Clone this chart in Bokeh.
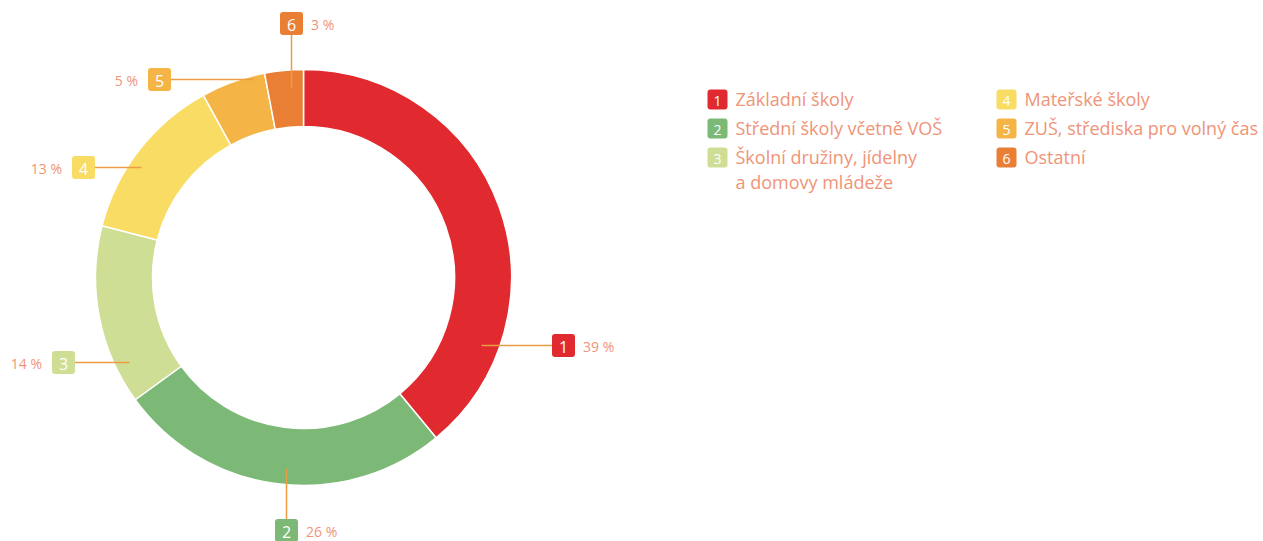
import math
from bokeh.plotting import figure
from bokeh.models import Range1d, ColumnDataSource
from bokeh.core.properties import value
from bokeh.embed import file_html
from bokeh.resources import INLINE

# ---- data ----
numbers = ["1", "2", "3", "4", "5", "6"]
categories = ["Základní školy", "Střední školy včetně VOŠ", "Školní družiny, jídelny\na domovy mládeže",
              "Mateřské školy", "ZUŠ, střediska pro volný čas", "Ostatní"]
shares = [39, 26, 14, 13, 5, 3]
pct_labels = ["39 %", "26 %", "14 %", "13 %", "5 %", "3 %"]
colors = ["#E12A2F", "#7CB977", "#CFDE95", "#F8DC63", "#F5B546", "#E87F34"]

# ---- layout (pixels, centre of donut = origin) ----
W, H = 1263, 541
CX, CY = 303, 277
R_OUT, R_IN = 208, 151
TEXT_COLOR = "#EF9478"
LEADER_COLOR = "#EE9B45"
FONT = "Open Sans"
BOX = 23
# label box centres and leader start points
label_box = [(260, -68), (-17, -253), (-240, -85), (-220, 110), (-144, 198), (-12, 254)]
leader_from = [(178, -68), (-17, -191), (-174, -85), (-162, 110), (-50, 198), (-12, 189)]
pct_side = ["right", "right", "left", "left", "left", "right"]

p = figure(width=W, height=H, output_backend="svg", toolbar_location=None,
           x_range=Range1d(-CX, W - CX), y_range=Range1d(CY - H, CY),
           min_border=0, outline_line_color=None)
p.axis.visible = False
p.grid.visible = False
p.background_fill_color = "white"
p.border_fill_color = "white"

# wedges
total = sum(shares)
starts, ends = [], []
acc = 0.0
for s in shares:
    starts.append(math.pi / 2 - 2 * math.pi * acc / total)
    acc += s
    ends.append(math.pi / 2 - 2 * math.pi * acc / total)
src = ColumnDataSource(dict(start=starts, end=ends, color=colors))
p.annular_wedge(x=0, y=0, inner_radius=R_IN, outer_radius=R_OUT, start_angle="start",
                end_angle="end", direction="clock", fill_color="color",
                line_color="white", line_width=1.5, source=src)

# labels
for i in range(len(shares)):
    bx, by = label_box[i]
    fx, fy = leader_from[i]
    if fy == by:  # horizontal leader
        ex = bx - BOX / 2 if fx < bx else bx + BOX / 2
        p.line([fx, ex], [fy, by], line_color=LEADER_COLOR, line_width=1.5)
    else:
        ey = by - BOX / 2 if fy < by else by + BOX / 2
        p.line([fx, bx], [fy, ey], line_color=LEADER_COLOR, line_width=1.5)
    p.quad(left=[bx - BOX / 2], right=[bx + BOX / 2], bottom=[by - BOX / 2], top=[by + BOX / 2],
           fill_color=colors[i], line_color=None, border_radius=3)
    p.text(x=[bx], y=[by - 1], text=[numbers[i]], text_color="white",
           text_font=value(FONT), text_font_size="16px", text_align="center",
           text_baseline="middle")
    if pct_side[i] == "right":
        p.text(x=[bx + BOX / 2 + 8], y=[by - 1], text=[pct_labels[i]], text_color=TEXT_COLOR,
               text_font=value(FONT), text_font_size="14px", text_align="left",
               text_baseline="middle")
    else:
        p.text(x=[bx - BOX / 2 - 10], y=[by - 1], text=[pct_labels[i]], text_color=TEXT_COLOR,
               text_font=value(FONT), text_font_size="14px", text_align="right",
               text_baseline="middle")

# legend
leg_col_x = [414, 703]
leg_row_y = [178, 149, 120]
LB = 20
for i in range(len(categories)):
    col, row = divmod(i, 3)
    lx, ly = leg_col_x[col], leg_row_y[row]
    p.quad(left=[lx - LB / 2], right=[lx + LB / 2], bottom=[ly - LB / 2], top=[ly + LB / 2],
           fill_color=colors[i], line_color=None, border_radius=3)
    p.text(x=[lx], y=[ly - 1], text=[numbers[i]], text_color="white",
           text_font=value(FONT), text_font_size="14px", text_align="center",
           text_baseline="middle")
    p.text(x=[lx + LB / 2 + 8], y=[ly + 13], text=[categories[i]], text_color=TEXT_COLOR,
           text_font=value(FONT), text_font_size="18px", text_align="left",
           text_baseline="top", text_line_height=1.07)

open("out.html", "w").write(file_html(p, INLINE))
